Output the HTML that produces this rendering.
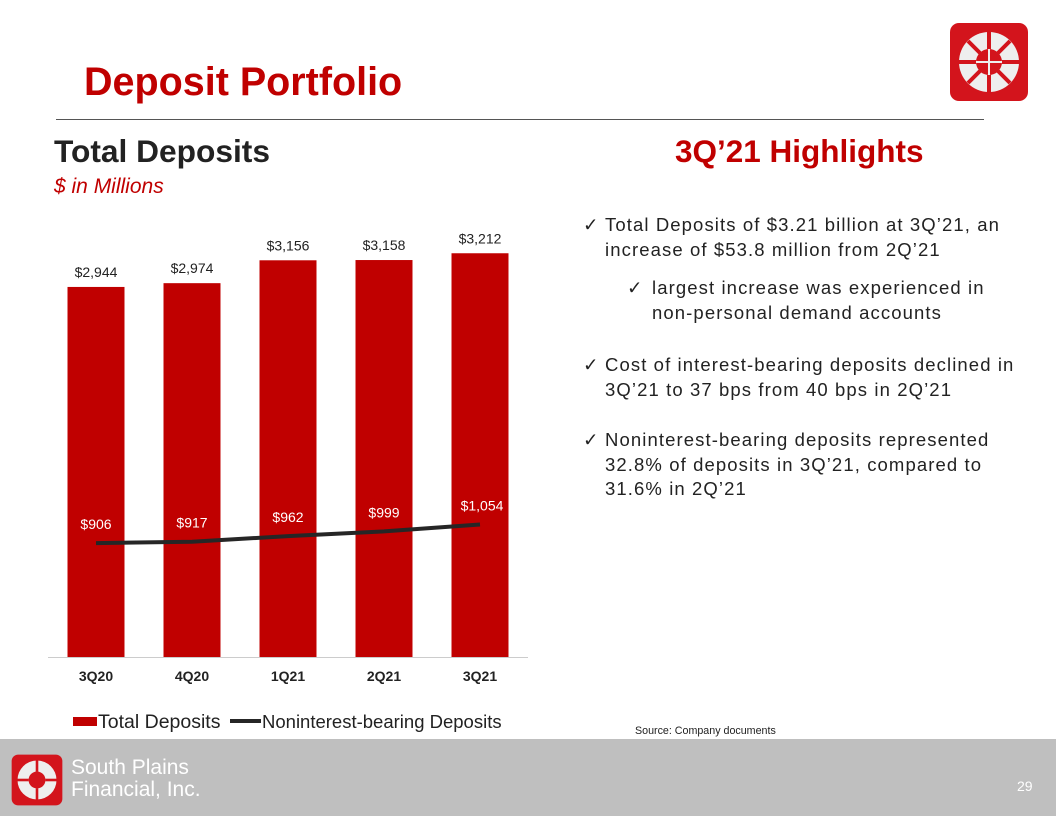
<!DOCTYPE html>
<html><head><meta charset="utf-8"><style>
body{margin:0;width:1056px;height:816px;position:relative;background:#fff;font-family:"Liberation Sans",Arial,sans-serif;overflow:hidden}
.a{position:absolute}
.it{position:relative;padding-left:22px;white-space:nowrap}
.it span{position:absolute;left:0;letter-spacing:0}
</style></head><body>
<div class="a" style="left:84px;top:60px;font-size:39.5px;font-weight:bold;color:#c00000">Deposit Portfolio</div>
<div class="a" style="left:56px;top:119px;width:928px;height:1px;background:#555"></div>
<svg class="a" style="left:949px;top:22px" width="80" height="80" viewBox="0 0 80 80">
<rect x="1" y="1" width="78" height="78" rx="9" fill="#d3141c"/>
<circle cx="40" cy="40" r="30" fill="#eee"/><circle cx="40" cy="40" r="13" fill="#d3141c"/>
<g stroke="#d3141c" stroke-width="4"><line x1="40" y1="10" x2="40" y2="27"/><line x1="10" y1="40" x2="27" y2="40"/><line x1="53" y1="40" x2="70" y2="40"/><line x1="40" y1="53" x2="40" y2="70"/><line x1="19" y1="19" x2="31" y2="31"/><line x1="61" y1="19" x2="49" y2="31"/><line x1="19" y1="61" x2="31" y2="49"/><line x1="61" y1="61" x2="49" y2="49"/></g>
<line x1="27" y1="40" x2="53" y2="40" stroke="#eee" stroke-width="2"/><line x1="40" y1="27" x2="40" y2="53" stroke="#eee" stroke-width="2"/>
</svg>
<div class="a" style="left:54px;top:133px;font-size:31.7px;font-weight:bold;color:#222">Total Deposits</div>
<div class="a" style="left:54px;top:175px;font-size:21px;font-style:italic;color:#c00000">$ in Millions</div>
<div class="a" style="left:675px;top:133px;font-size:31.5px;font-weight:bold;color:#c00000">3Q’21 Highlights</div>
<div class="a" style="left:583px;top:213px;width:460px;font-size:18.5px;line-height:24.5px;letter-spacing:1.1px;color:#222">
<div class="it"><span>✓</span>Total Deposits of $3.21 billion at 3Q’21, an<br>increase of $53.8 million from 2Q’21</div>
<div class="it" style="padding-left:69px;margin-top:14px"><span style="left:44px">✓</span>largest increase was experienced in<br>non-personal demand accounts</div>
<div class="it" style="margin-top:28px"><span>✓</span>Cost of interest-bearing deposits declined in<br>3Q’21 to 37 bps from 40 bps in 2Q’21</div>
<div class="it" style="margin-top:26px"><span>✓</span>Noninterest-bearing deposits represented<br>32.8% of deposits in 3Q’21, compared to<br>31.6% in 2Q’21</div>
</div>
<div class="a" style="left:635px;top:725px;font-size:10.7px;color:#222">Source: Company documents</div>
<svg class="a" id="chart" style="left:0;top:0" width="560" height="740"></svg>
<div class="a" style="left:0;top:739px;width:1056px;height:77px;background:#bfbfbf"></div>
<svg class="a" style="left:11px;top:754px" width="52" height="52" viewBox="0 0 80 80">
<rect x="1" y="1" width="78" height="78" rx="10" fill="#d3141c"/>
<circle cx="40" cy="40" r="30" fill="#eee"/><circle cx="40" cy="40" r="13" fill="#d3141c"/>
<g stroke="#d3141c" stroke-width="4"><line x1="40" y1="10" x2="40" y2="27"/><line x1="10" y1="40" x2="27" y2="40"/><line x1="53" y1="40" x2="70" y2="40"/><line x1="40" y1="53" x2="40" y2="70"/></g>
</svg>
<div class="a" style="left:71px;top:757px;font-size:21px;line-height:22px;color:#fff">South Plains<br>Financial, Inc.</div>
<div class="a" style="left:1017px;top:778px;font-size:14px;color:#fff">29</div>
<script>
const categories=["3Q20","4Q20","1Q21","2Q21","3Q21"];
const totalDeposits=[2944,2974,3156,3158,3212];
const nonInterest=[906,917,962,999,1054];
const totalLabels=["$2,944","$2,974","$3,156","$3,158","$3,212"];
const nibLabels=["$906","$917","$962","$999","$1,054"];
const svg=document.getElementById('chart');const NS="http://www.w3.org/2000/svg";
function y(v){return 657-v*0.1257;}
function x(i){return 96+i*96;}
function mk(t,a,txt){const e=document.createElementNS(NS,t);for(const k in a)e.setAttribute(k,a[k]);if(txt)e.textContent=txt;svg.appendChild(e);return e;}
categories.forEach((c,i)=>{
 const r=mk('rect',{x:x(i)-28.5,y:y(totalDeposits[i]),width:57,height:657-y(totalDeposits[i]),fill:'#c00000'});
 
 
 const t=mk('text',{x:x(i),y:y(totalDeposits[i])-10,'text-anchor':'middle','font-size':14,fill:'#222'},totalLabels[i]);
 
 
 const l=mk('text',{x:x(i),y:681,'text-anchor':'middle','font-size':14,'font-weight':'bold',fill:'#222'},c);
 
 
});
const ax=mk('line',{x1:48,x2:528,y1:657.5,y2:657.5,stroke:'#ccc'});


let d="";nonInterest.forEach((v,i)=>{d+=(i?"L":"M")+x(i)+","+y(v);});
const p=mk('path',{d:d,stroke:'#262626','stroke-width':4,fill:'none'});


nonInterest.forEach((v,i)=>{const t=mk('text',{x:x(i)+(i==4?2:0),y:y(v)-14,'text-anchor':'middle','font-size':14,fill:'#fff'},nibLabels[i]);
 
 });
const lg1=mk('rect',{x:73,y:717,width:24,height:9,fill:'#c00000'});


const lt1=mk('text',{x:98,y:728,'font-size':19.5,fill:'#222'},'Total Deposits');


const lg2=mk('line',{x1:230,x2:261,y1:721,y2:721,stroke:'#262626','stroke-width':4});


const lt2=mk('text',{x:262,y:728,'font-size':18.5,fill:'#222'},'Noninterest-bearing Deposits');


</script>
</body></html>
